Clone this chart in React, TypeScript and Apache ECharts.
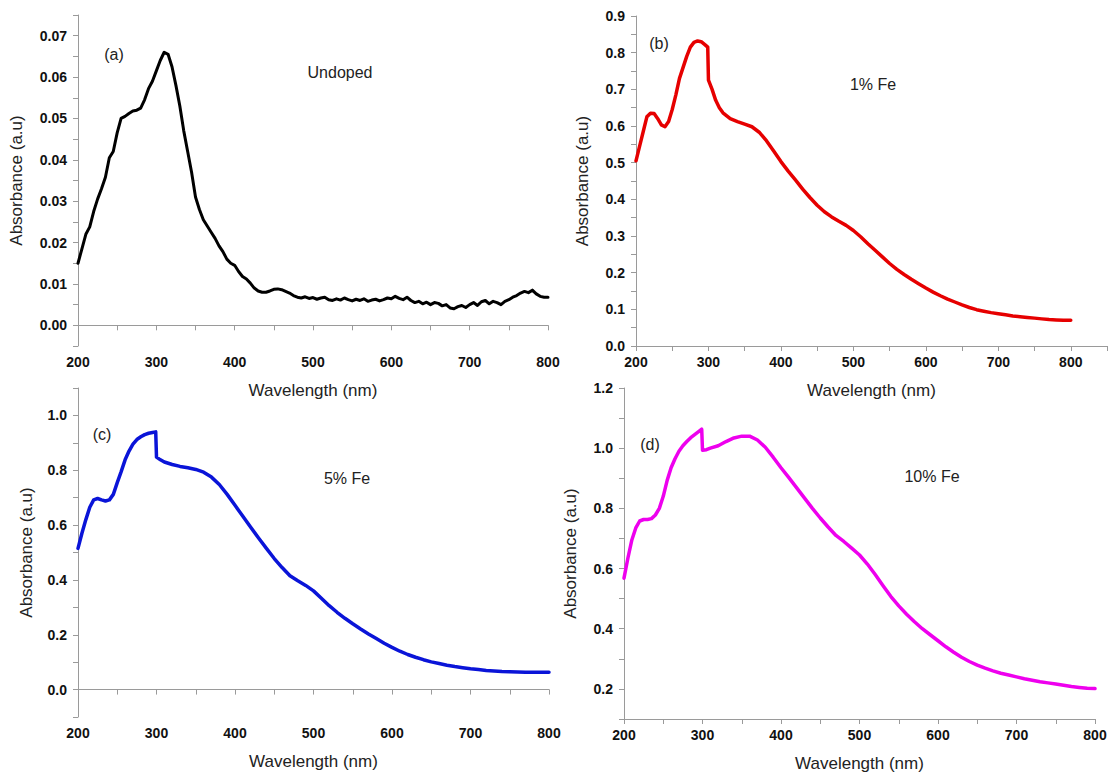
import React, { useEffect, useRef } from "react";
import * as echarts from "echarts";

// ---------- data ----------
const wlA = [200,205,210,215,220,225,230,235,240,245,250,255,260,265,270,275,280,285,290,295,300,305,310,315,320,325,330,335,340,345,350,355,360,365,370,375,380,385,390,395,400,405,410,415,420,425,430,435,440,445,450,455,460,465,470,475,480,485,490,495,500,505,510,515,520,525,530,535,540,545,550,555,560,565,570,575,580,585,590,595,600,605,610,615,620,625,630,635,640,645,650,655,660,665,670,675,680,685,690,695,700,705,710,715,720,725,730,735,740,745,750,755,760,765,770,775,780,785,790,795,800];
const absA = [0.0150,0.0185,0.0220,0.0238,0.0275,0.0305,0.0330,0.0358,0.0405,0.0420,0.0465,0.0500,0.0505,0.0512,0.0518,0.0520,0.0525,0.0545,0.0572,0.0590,0.0615,0.0640,0.0660,0.0655,0.0625,0.0580,0.0530,0.0470,0.0420,0.0370,0.0310,0.0280,0.0255,0.0240,0.0225,0.0210,0.0192,0.0178,0.0160,0.0150,0.0145,0.0130,0.0118,0.0112,0.0102,0.0090,0.0083,0.0080,0.0080,0.0083,0.0087,0.0088,0.0086,0.0082,0.0078,0.0072,0.0068,0.0066,0.0069,0.0065,0.0067,0.0063,0.0066,0.0068,0.0062,0.0060,0.0064,0.0061,0.0066,0.0062,0.0059,0.0063,0.0060,0.0064,0.0058,0.0061,0.0063,0.0059,0.0062,0.0066,0.0064,0.0070,0.0065,0.0062,0.0068,0.0060,0.0055,0.0058,0.0052,0.0056,0.0050,0.0055,0.0053,0.0047,0.0050,0.0042,0.0040,0.0045,0.0048,0.0043,0.0050,0.0055,0.0048,0.0057,0.0060,0.0052,0.0058,0.0055,0.0050,0.0058,0.0062,0.0068,0.0072,0.0078,0.0082,0.0079,0.0085,0.0076,0.0070,0.0068,0.0068];

const wlB = [200,205,210,215,220,225,230,235,240,245,250,255,260,265,270,275,280,285,290,295,299,300,305,310,315,320,330,340,350,360,370,380,390,400,410,420,430,440,450,460,470,480,490,500,510,520,530,540,550,560,570,580,590,600,610,620,630,640,650,660,670,680,690,700,710,720,730,740,750,760,770,780,790,800];
const absB = [0.505,0.545,0.585,0.625,0.635,0.634,0.620,0.603,0.598,0.612,0.645,0.685,0.730,0.760,0.790,0.815,0.828,0.832,0.830,0.822,0.815,0.725,0.700,0.670,0.650,0.636,0.620,0.612,0.605,0.598,0.583,0.560,0.532,0.503,0.477,0.453,0.428,0.405,0.384,0.366,0.352,0.340,0.329,0.315,0.298,0.279,0.261,0.243,0.225,0.209,0.195,0.182,0.170,0.158,0.147,0.137,0.128,0.120,0.112,0.105,0.099,0.095,0.091,0.088,0.085,0.082,0.080,0.078,0.076,0.074,0.072,0.071,0.070,0.070];

const wlC = [200,205,210,215,220,225,230,235,240,245,250,255,260,265,270,275,280,285,290,295,299,300,305,310,320,330,340,350,360,370,380,390,400,410,420,430,440,450,460,470,480,490,500,510,520,530,540,550,560,570,580,590,600,610,620,630,640,650,660,670,680,690,700,710,720,730,740,750,760,770,780,790,800];
const absC = [0.515,0.570,0.620,0.665,0.692,0.697,0.692,0.688,0.692,0.712,0.755,0.795,0.838,0.870,0.895,0.912,0.922,0.930,0.935,0.938,0.940,0.848,0.838,0.830,0.821,0.814,0.809,0.803,0.793,0.775,0.748,0.712,0.672,0.632,0.592,0.553,0.515,0.478,0.445,0.415,0.397,0.380,0.360,0.333,0.306,0.282,0.260,0.240,0.221,0.203,0.186,0.169,0.154,0.140,0.128,0.118,0.109,0.101,0.095,0.089,0.084,0.080,0.076,0.073,0.070,0.068,0.066,0.065,0.064,0.063,0.063,0.063,0.063];

const wlD = [200,205,210,215,220,225,230,235,240,245,250,255,260,265,270,275,280,285,290,295,299,300,305,310,320,330,340,350,360,370,380,390,400,410,420,430,440,450,460,470,480,490,500,510,520,530,540,550,560,570,580,590,600,610,620,630,640,650,660,670,680,690,700,710,720,730,740,750,760,770,780,790,800];
const absD = [0.568,0.635,0.695,0.735,0.758,0.763,0.763,0.766,0.778,0.800,0.840,0.893,0.935,0.965,0.990,1.008,1.022,1.035,1.045,1.055,1.063,0.993,0.995,1.000,1.008,1.022,1.034,1.040,1.040,1.027,1.003,0.970,0.935,0.902,0.868,0.834,0.800,0.768,0.738,0.710,0.690,0.668,0.645,0.615,0.580,0.543,0.507,0.476,0.448,0.423,0.400,0.380,0.360,0.340,0.322,0.305,0.291,0.279,0.269,0.260,0.252,0.246,0.240,0.234,0.229,0.224,0.220,0.216,0.212,0.208,0.205,0.202,0.201];

const xLabelVals = [200, 300, 400, 500, 600, 700, 800];
const xTickVals = [200, 250, 300, 350, 400, 450, 500, 550, 600, 650, 700, 750, 800];
const xTickValsB = [200, 250, 300, 350, 400, 450, 500, 550, 600, 650, 700, 750, 800, 850];

const yLabelsA = [0, 0.01, 0.02, 0.03, 0.04, 0.05, 0.06, 0.07];
const yTicksA = [-0.005, 0, 0.005, 0.01, 0.015, 0.02, 0.025, 0.03, 0.035, 0.04, 0.045, 0.05, 0.055, 0.06, 0.065, 0.07, 0.075];
const yLabelsB = [0, 0.1, 0.2, 0.3, 0.4, 0.5, 0.6, 0.7, 0.8, 0.9];
const yTicksB = [0, 0.05, 0.1, 0.15, 0.2, 0.25, 0.3, 0.35, 0.4, 0.45, 0.5, 0.55, 0.6, 0.65, 0.7, 0.75, 0.8, 0.85, 0.9];
const yLabelsC = [0, 0.2, 0.4, 0.6, 0.8, 1.0];
const yTicksC = [-0.1, 0, 0.1, 0.2, 0.3, 0.4, 0.5, 0.6, 0.7, 0.8, 0.9, 1.0, 1.1];
const yLabelsD = [0.2, 0.4, 0.6, 0.8, 1.0, 1.2];
const yTicksD = [0.1, 0.2, 0.3, 0.4, 0.5, 0.6, 0.7, 0.8, 0.9, 1.0, 1.1, 1.2];

const panelLetters = ["(a)", "(b)", "(c)", "(d)"];
const panelNames = ["Undoped", "1% Fe", "5% Fe", "10% Fe"];
const lineColors = ["#000000", "#e60000", "#0a14d8", "#ee00ee"];

const FONT = "Liberation Sans, Arial, sans-serif";

function pairs(x: number[], y: number[]) {
  return x.map((v, i) => [v, y[i]]);
}

function xAxisCfg(grid: number, max: number, ticks: number[]) {
  return {
    type: "value",
    gridIndex: grid,
    min: 200,
    max,
    name: "Wavelength (nm)",
    nameLocation: "middle",
    nameGap: 36,
    nameTextStyle: { fontSize: 17, fontFamily: FONT, color: "#222" },
    axisLine: { show: true, lineStyle: { color: "#9a9a9a", width: 1 } },
    axisTick: { show: true, customValues: ticks, length: 5, inside: false, lineStyle: { color: "#9a9a9a" } },
    axisLabel: {
      customValues: xLabelVals,
      fontSize: 14,
      fontWeight: "bold",
      fontFamily: FONT,
      color: "#111",
      margin: 9,
    },
    splitLine: { show: false },
  };
}

function yAxisCfg(grid: number, min: number, max: number, labels: number[], ticks: number[], digits: number, gap: number) {
  return {
    type: "value",
    gridIndex: grid,
    min,
    max,
    name: "Absorbance (a.u)",
    nameLocation: "middle",
    nameGap: gap,
    nameTextStyle: { fontSize: 17, fontFamily: FONT, color: "#222" },
    axisLine: { show: true, lineStyle: { color: "#9a9a9a", width: 1 } },
    axisTick: { show: true, customValues: ticks, length: 5, inside: false, lineStyle: { color: "#9a9a9a" } },
    axisLabel: {
      customValues: labels,
      formatter: (v: number) => v.toFixed(digits),
      fontSize: 14,
      fontWeight: "bold",
      fontFamily: FONT,
      color: "#111",
      margin: 11,
    },
    splitLine: { show: false },
  };
}

function textEl(text: string, x: number, y: number, size: number) {
  return {
    type: "text",
    x,
    y,
    style: {
      text,
      font: `${size}px ${FONT}`,
      fill: "#222",
      align: "center",
      verticalAlign: "middle",
      textAlign: "center",
      textVerticalAlign: "middle",
    },
  };
}

export default function App() {
  const ref = useRef<HTMLDivElement>(null);
  useEffect(() => {
    if (!ref.current) return;
    const chart = echarts.init(ref.current, undefined, { renderer: "svg" });
    const seriesData = [pairs(wlA, absA), pairs(wlB, absB), pairs(wlC, absC), pairs(wlD, absD)];
    chart.setOption({
      animation: false,
      backgroundColor: "#ffffff",
      grid: [
        { left: 78, top: 15, width: 470, height: 331 },
        { left: 636, top: 16, width: 471, height: 330 },
        { left: 78, top: 388, width: 471, height: 329 },
        { left: 624, top: 388, width: 471, height: 331 },
      ],
      xAxis: [
        xAxisCfg(0, 800, xTickVals),
        xAxisCfg(1, 850, xTickValsB),
        xAxisCfg(2, 800, xTickVals),
        xAxisCfg(3, 800, xTickVals),
      ],
      yAxis: [
        yAxisCfg(0, -0.005, 0.075, yLabelsA, yTicksA, 2, 53),
        yAxisCfg(1, 0, 0.9, yLabelsB, yTicksB, 1, 45),
        yAxisCfg(2, -0.1, 1.1, yLabelsC, yTicksC, 1, 43),
        yAxisCfg(3, 0.1, 1.2, yLabelsD, yTicksD, 1, 45),
      ],
      series: seriesData.map((d, i) => ({
        type: "line",
        name: panelNames[i],
        xAxisIndex: i,
        yAxisIndex: i,
        data: d,
        showSymbol: false,
        symbol: "none",
        lineStyle: { color: lineColors[i], width: i === 0 ? 3 : 3.5, join: "round", cap: "round" },
        itemStyle: { color: lineColors[i] },
        z: 3,
      })),
      graphic: [
        textEl(panelLetters[0], 114, 54, 16),
        textEl(panelNames[0], 340, 72, 16),
        textEl(panelLetters[1], 659, 43, 16),
        textEl(panelNames[1], 873, 84, 16),
        textEl(panelLetters[2], 102, 434, 16),
        textEl(panelNames[2], 347, 478, 16),
        textEl(panelLetters[3], 650, 444, 16),
        textEl(panelNames[3], 932, 476, 16),
      ],
    });
    return () => chart.dispose();
  }, []);
  return (
    <div
      ref={ref}
      style={{ position: "fixed", left: 0, top: 0, width: 1110, height: 780, background: "#fff" }}
    />
  );
}
